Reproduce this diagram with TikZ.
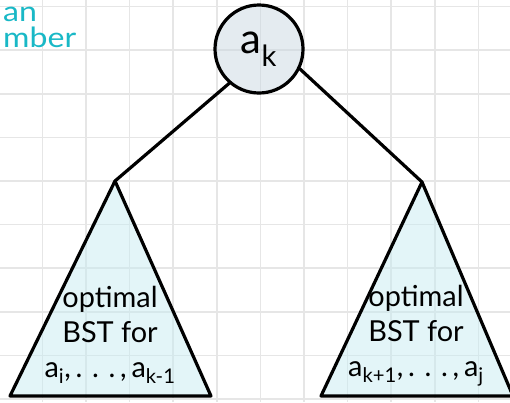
\documentclass[tikz,border=0pt]{standalone}
\usepackage{fontspec}
\setmainfont{Lato}
\usetikzlibrary{positioning}
\definecolor{gridgray}{HTML}{E6E6E6}
\definecolor{notecyan}{HTML}{19B8C6}
\definecolor{rootfill}{HTML}{C9D7E1}
\definecolor{treefill}{HTML}{C7EBF1}
\newcommand\spdots{.\,\,.\,\,.}

\begin{document}
\begin{tikzpicture}[x=1bp, y=-1bp,
    every node/.style={font=\fontsize{29}{35}\selectfont},
    gridln/.style={draw=gridgray, line width=1.5bp},
    rootnd/.style={circle, draw, line width=3.2bp, fill=rootfill, fill opacity=0.5, text opacity=1, minimum size=88bp, inner sep=0pt, font=\fontsize{42}{44}\selectfont},
    subtr/.style={draw, line width=3.2bp, fill=treefill, fill opacity=0.5, line join=round},
    tl/.style={align=center, inner sep=0pt},
    conn/.style={line width=3.2bp, line cap=round},
    note/.style={text=notecyan, inner sep=0pt, align=left, anchor=north west, font=\fontsize{28}{26}\selectfont\addfontfeature{FakeStretch=1.15}}
]
\useasboundingbox (0,0) rectangle (510,402);
\clip (0,0) rectangle (510,402);
% grid
\foreach \gx in {0,...,10} \draw[gridln] ({42.4+43.6*\gx},0) -- ++(0,402);
\foreach \gy in {0,...,9} \draw[gridln] (0,{6.6+43.6*\gy}) -- ++(510,0);
% note at the top left
\node[note] (note) at (3,7) {an\\mber};
% root
\node[rootnd] (root) at (259,49) {a\textsubscript{k}};
% left subtree
\coordinate (lapex) at (115,181);
\draw[subtr] (lapex) -- (211,396) -- (10,396) -- cycle;
\node[tl] (ltxt) at (110,335) {optimal\\BST for\\a\textsubscript{i},\,\spdots\,,\,a\textsubscript{k-1}};
% right subtree
\coordinate (rapex) at (422,182);
\draw[subtr] (rapex) -- (513,396) -- (321,396) -- cycle;
\node[tl] (rtxt) at (416,336) {optimal\\BST for\\a\textsubscript{k+1},\,\spdots\,,\,a\textsubscript{j}};
% edges
\draw[conn] (root.229) -- (lapex);
\draw[conn] (root.334) -- (rapex);
\end{tikzpicture}
\end{document}
